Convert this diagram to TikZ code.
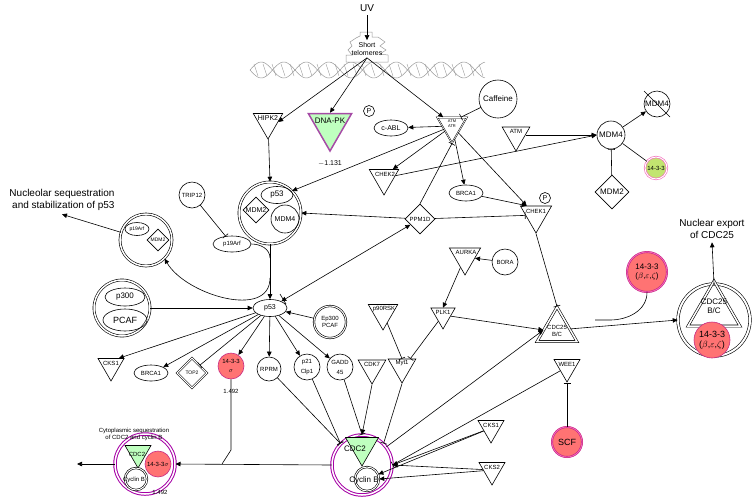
\documentclass[tikz,border=0pt]{standalone}
\usepackage{fontspec}
\setmainfont{Liberation Sans}
\usetikzlibrary{shapes.geometric,arrows.meta,calc}
\begin{document}
\begin{tikzpicture}[x=1pt,y=-1pt,line width=0.6pt,
  >={Triangle[length=5pt,width=4.5pt]},
  inh/.style={-{Bar[width=7pt]}},
  dtri/.style={regular polygon,regular polygon sides=3,shape border rotate=180,draw,inner sep=0pt},
  utri/.style={regular polygon,regular polygon sides=3,draw,inner sep=0pt},
  circ/.style={circle,draw,inner sep=0pt},
  ell/.style={ellipse,draw,inner sep=1pt},
  dia/.style={diamond,draw,inner sep=0pt,aspect=1},
  lab/.style={font=\fontsize{6}{7}\selectfont,inner sep=0pt},
  tx/.style={font=\fontsize{8}{9}\selectfont,inner sep=0pt},
  red/.style={fill=red!55!white,draw=magenta!80!black},
  grn/.style={fill=green!25!white,draw=violet!70,line width=1.5pt}]
\useasboundingbox (0,0) rectangle (754,499);
% helix
\draw[gray!80,line width=0.5pt,domain=250:485,samples=120] plot (\x,{70+8*sin((\x-250)*8)});
\draw[gray!80,line width=0.5pt,domain=250:485,samples=120] plot (\x,{70-8*sin((\x-250)*8)});
\foreach \i in {0,...,25}{\draw[gray!80,line width=0.4pt] ({254+\i*9},{70-6}) -- ({258+\i*9},{70+6});}
% UV and telomeres
\node[font=\fontsize{10}{11}\selectfont] (uv) at (367,8) {UV};
\fill[white] (346,36) rectangle (390,62);
\draw[gray!80,line width=0.5pt] (360,36) -- (360,32) -- (372,32) -- (372,37) -- (378,37) -- (385,42) -- (380,46) -- (386,50) -- (380,54) -- (388,55) -- (388,62) -- (346,62) -- (346,55) -- (352,55) -- (348,50) -- (352,46) -- (350,42) -- (356,38) -- (360,36);
\node[tx,font=\fontsize{7}{8}\selectfont,align=center,inner sep=2pt] (tel) at (367,49) {Short\\telomeres};
% top row
\node[dtri,minimum size=34pt] (hipk2) at (268,122) {};
\node[lab,font=\fontsize{7}{8}\selectfont] at (268,118) {HIPK2};
\node[dtri,minimum size=50pt,grn] (dnapk) at (330,126) {};
\node[tx] at (330,121) {DNA-PK};
\node[tx,font=\fontsize{7}{8}\selectfont] at (330,163) {$-$1.131};
\node[circ,minimum size=11pt,lab,font=\fontsize{7}{8}\selectfont] (pabl) at (369,111) {P};
\node[ell,minimum width=34pt,minimum height=16pt,tx,font=\fontsize{7}{8}\selectfont] (cabl) at (391,128) {c-ABL};
\node[dtri,minimum size=34pt,double,line width=0.5pt] (atm) at (452,126) {};
\node[lab,font=\fontsize{4}{5}\selectfont,align=center] at (452,124) {ATM\\ATR};
\node[circ,minimum size=38pt,tx] (caff) at (498,99) {Caffeine};
\node[dtri,minimum size=32pt] (atm2) at (516,135) {};
\node[lab] at (516,131) {ATM};
\node[circ,minimum size=28pt,tx] (mdm4) at (611,135) {MDM4};
\node[circ,minimum size=26pt,tx] (mdm4x) at (657,104) {MDM4};
\draw (644,91) -- (670,117);
\node[circ,minimum size=22pt,fill=yellow!60!green!60,draw=magenta!60,double=white,double distance=1pt,lab] (y1433) at (656,168) {14-3-3};
\node[dia,minimum size=34pt,tx] (mdm2) at (612,192) {MDM2};
% middle
\node[dtri,minimum size=34pt] (chek2) at (384,178) {};
\node[lab] at (385,174) {CHEK2};
\node[ell,minimum width=34pt,minimum height=16pt,lab] (brca1a) at (466,193) {BRCA1};
\node[dtri,minimum size=36pt] (chek1) at (536,215) {};
\node[lab] at (536,211) {CHEK1};
\node[circ,minimum size=11pt,lab,font=\fontsize{7}{8}\selectfont] at (545,198) {P};
\node[dia,minimum size=30pt,lab] (ppm) at (420,219) {PPM1D};
% p53 complex
\node[circ,minimum size=62pt,double,double distance=1.5pt] (cplx) at (270,213) {};
\node[ell,minimum width=32pt,minimum height=17pt,tx] at (277,195) {p53};
\node[dia,minimum size=26pt,lab,font=\fontsize{7}{8}\selectfont] at (256,210) {MDM2};
\node[circ,minimum size=28pt,lab,font=\fontsize{7}{8}\selectfont] at (285,219) {MDM4};
\node[circ,minimum size=26pt,lab] (trip) at (192,195) {TRIP12};
\node[ell,minimum width=38pt,minimum height=16pt,lab] (p19) at (232,244) {p19Arf};
% p19Arf/MDM2 complex
\node[circ,minimum size=52pt,double,double distance=1.5pt] (cnuc) at (146,240) {};
\node[ell,minimum width=24pt,minimum height=13pt,lab,font=\fontsize{5}{6}\selectfont] at (137,229) {p19Arf};
\node[dia,minimum size=22pt,lab,font=\fontsize{5}{6}\selectfont] at (158,240) {MDM2};
\node[font=\fontsize{10}{12}\selectfont,align=right] (nuctext) at (62,200) {Nucleolar sequestration\\and stabilization of p53};
% p53 main
\node[ell,minimum width=34pt,minimum height=17pt,lab,font=\fontsize{7}{8}\selectfont] (p53) at (270,308) {p53};
\node[circ,minimum size=56pt,double,double distance=1.5pt] (cp300) at (122,308) {};
\node[ell,minimum width=40pt,minimum height=18pt,tx] at (125,297) {p300};
\node[ell,minimum width=44pt,minimum height=22pt,tx,font=\fontsize{9}{10}\selectfont] at (125,320) {PCAF};
\node[circ,minimum size=32pt,double,double distance=1pt,lab,align=center] (ep) at (330,322) {Ep300\\PCAF};
% targets
\node[dtri,minimum size=30pt] (cks1a) at (111,366) {};
\node[lab] at (111,363) {CKS1};
\node[ell,minimum width=34pt,minimum height=16pt,lab] (brca1b) at (151,373) {BRCA1};
\node[dia,minimum size=30pt,double,double distance=1pt,lab,font=\fontsize{5}{6}\selectfont,aspect=0.55] (top2) at (192,373) {TOP2};
\node[circ,minimum size=26pt,red,lab,align=center] (s1433) at (231,366) {14-3-3\\[2pt]$\sigma$};
\node[lab] at (231,391) {1.492};
\node[circ,minimum size=24pt,lab] (rprm) at (269,369) {RPRM};
\node[circ,minimum size=26pt,lab,align=center] (p21) at (307,367) {p21\\[3pt]Clp1};
\node[circ,minimum size=26pt,lab,align=center] (gadd) at (340,367) {GADD\\[3pt]45};
\node[dtri,minimum size=32pt] (cdk7) at (372,368) {};
\node[lab] at (372,364) {CDK7};
\node[dtri,minimum size=34pt] (p90) at (383,313) {};
\node[lab] at (384,309) {p90RSK};
\node[dtri,minimum size=32pt] (myt1) at (402,367) {};
\node[lab] at (402,363) {Myt1};
\node[dtri,minimum size=36pt] (aurka) at (465,257) {};
\node[lab] at (466,252) {AURKA};
\node[circ,minimum size=26pt,lab] (bora) at (505,262) {BORA};
\node[dtri,minimum size=28pt] (plk1) at (443,315) {};
\node[lab] at (443,312) {PLK1};
\node[utri,minimum size=46pt,double,double distance=1.5pt] (cdc25) at (557,330) {};
\node[lab,align=center] at (557,331) {CDC25\\B/C};
\node[dtri,minimum size=30pt] (wee1) at (567,367) {};
\node[lab] at (567,364) {WEE1};
\node[circ,minimum size=30pt,red,double=magenta!60,double distance=0.8pt,tx,font=\fontsize{9}{10}\selectfont] (scf) at (567,442) {SCF};
\node[dtri,minimum size=30pt] (cks1b) at (491,428) {};
\node[lab] at (491,425) {CKS1};
\node[dtri,minimum size=30pt] (cks2) at (492,470) {};
\node[lab] at (492,467) {CKS2};
\node[circ,minimum size=40pt,red,double=magenta!60,double distance=0.8pt,tx,align=center] (b1433) at (647,272) {14-3-3\\($\beta$,$\varepsilon$,$\zeta$)};
% nuclear export complex
\node[circ,minimum size=72pt,double,double distance=2pt] (cexp) at (714,320) {};
\node[utri,minimum size=60pt,double,double distance=1.5pt] at (714,311) {};
\node[tx,align=center] at (714,306) {CDC25\\B/C};
\node[circ,minimum size=36pt,red,tx,font=\fontsize{9}{10}\selectfont,align=center] at (712,340) {14-3-3\\($\beta$,$\varepsilon$,$\zeta$)};
\node[font=\fontsize{10}{12}\selectfont,align=center] (exptext) at (712,229) {Nuclear export\\of CDC25};
% CDC2 complex
\node[circ,minimum size=60pt,draw=violet!70!magenta,double=white,double distance=1.5pt,line width=1pt] (ccdc2) at (362,465) {};
\node[dtri,minimum size=38pt,fill=green!25!white] at (362,447) {};
\node[tx] at (355,449) {CDC2};
\node[circ,minimum size=24pt,double,double distance=1pt] (cycb) at (367,479) {};
\node[tx] at (364,480) {Cyclin B};
% cytoplasmic complex
\node[circ,minimum size=60pt,draw=violet!70!magenta,double=white,double distance=1.5pt,line width=1pt] (ccyt) at (145,464) {};
\node[dtri,minimum size=30pt,fill=green!25!white] at (138,453) {};
\node[lab] at (137,454) {CDC2};
\node[circ,minimum size=26pt,red,lab] at (158,464) {14-3-3$\sigma$};
\node[circ,minimum size=22pt,double,double distance=1pt] at (136,479) {};
\node[lab] at (134,480) {Cyclin B};
\node[lab] at (160,492) {1.492};
\node[lab,align=center] at (134,434) {Cytoplasmic sequestration\\of CDC2 and cyclin B};
\coordinate (leftend) at (77,464);
% edges
\draw[->] (uv) -- (tel);
\draw[->] (tel.south) -- (hipk2.east);
\draw[->] (tel.south) -- (dnapk.north);
\draw[->] (tel.south) -- (atm.north west);
\draw[->] (hipk2) -- (cplx.north);
\draw[->] (atm) -- (cabl);
\draw[->] (atm) -- (cplx.north east);
\draw[->] (atm) -- (chek2.north east);
\draw[->] (atm) -- (brca1a);
\draw[->] (atm) -- (chek1.north west);
\draw[inh] (caff) -- (atm.north east);
\draw[inh] (ppm.north) -- (atm.south);
\draw[->] (chek2) -- (mdm4.west);
\draw[->] (atm2) -- (mdm4.west);
\draw[->] (mdm4) -- (mdm4x);
\draw (mdm4) -- (y1433);
\draw[inh] (mdm2) -- (mdm4);
\draw[->] (brca1a) -- (chek1.north west);
\draw[->] (ppm) -- (cplx.east);
\draw[inh] (ppm) -- (chek1);
\draw[inh] (chek1.south) -- (cdc25.north);
\draw[<->] (p53) -- (ppm);
\draw (283,299) -- +(-3,-5) -- +(3,5);
\draw[inh] (trip) -- (p19);
\draw (p19.east) to[out=0,in=90] (270,258);
\draw[->] (cplx.south) -- (p53.north);
\draw[->] (270,278) to[out=-90,in=-60,looseness=1] (cnuc.south east);
\draw[->] (cnuc) -- (nuctext.south);
\draw[->] (cp300) -- (p53);
\draw[->] (ep) -- (p53);
\draw[->] (p53) -- (cks1a.north east);
\draw[->] (p53) -- (brca1b.north east);
\draw[inh] (p53) -- (top2.north east);
\draw[->] (p53) -- (s1433);
\draw[->] (p53) -- (rprm);
\draw[->] (p53) -- (p21);
\draw[->] (p53) -- (gadd);
\draw[inh] (rprm) -- (ccdc2.north west);
\draw[inh] (p21) -- (ccdc2.north west);
\draw[inh] (gadd) -- (ccdc2.north);
\draw[->] (cdk7.south) -- (ccdc2.north);
\draw[inh] (myt1.south) -- (ccdc2.north east);
\draw[inh] (p90) -- (myt1.north);
\draw[inh] (plk1) -- (myt1.north east);
\draw[->] (aurka) -- (plk1.north);
\draw[->] (bora) -- (aurka);
\draw[->] (plk1) -- (cdc25.west);
\draw[->] (ccdc2) -- (cdc25.west);
\draw[inh] (wee1) -- (ccdc2.east);
\draw[->] (cks1b) -- (ccdc2.east);
\draw[->] (cks1b) -- (cycb);
\draw[->] (cks2) -- (ccdc2.east);
\draw[->] (cks2) -- (cycb.east);
\draw[inh] (scf) -- (wee1);
\draw[->] (cdc25) -- (cexp.west);
\draw (b1433.south) to[out=-90,in=0] (610,320) -- (595,320);
\draw[->] (cexp.north) -- (exptext.south);
\draw[->] (ccdc2.west) -- (ccyt.east);
\draw (s1433.south) -- (231,450) -- (222,464);
\draw[->] (ccyt.west) -- (leftend);
\end{tikzpicture}
\end{document}
